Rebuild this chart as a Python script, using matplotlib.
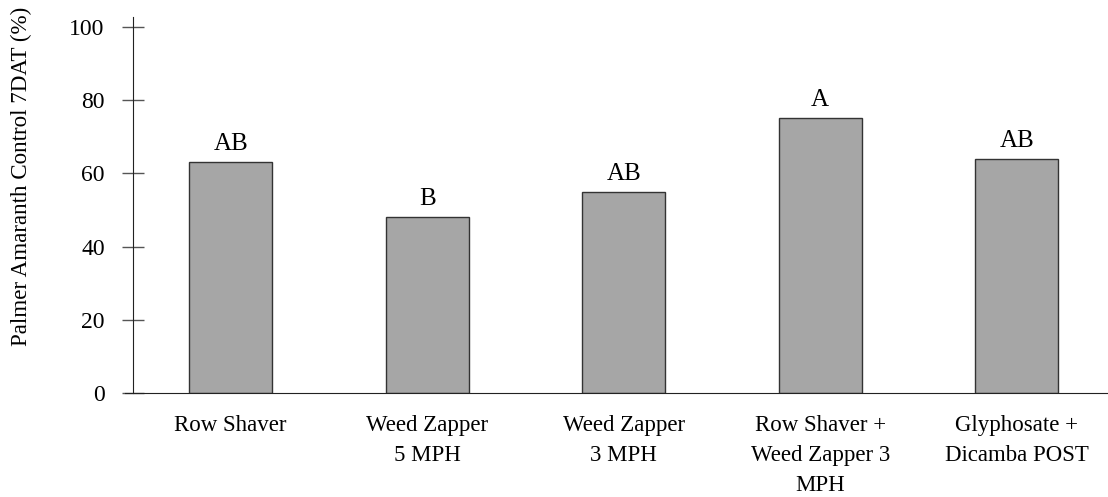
import matplotlib.pyplot as plt

# data
categories = ['Row Shaver', 'Weed Zapper\n5 MPH', 'Weed Zapper\n3 MPH',
              'Row Shaver +\nWeed Zapper 3\nMPH', 'Glyphosate +\nDicamba POST']
control = [63, 48, 55, 75, 64]
letters = ['AB', 'B', 'AB', 'A', 'AB']
yticks = [0, 20, 40, 60, 80, 100]

plt.rcParams['font.family'] = ['Liberation Serif', 'DejaVu Serif']

fig = plt.figure(figsize=(11.08, 4.97), dpi=100)
ax = fig.add_axes([132.5 / 1108, 104 / 497, (1115 - 132.5) / 1108, 376 / 497])

x = list(range(len(categories)))
bars = ax.bar(x, control, width=0.42, color='#a6a6a6', edgecolor='#333333', linewidth=1)

for b, lab in zip(bars, letters):
    ax.annotate(lab, (b.get_x() + b.get_width() / 2, b.get_height()),
                xytext=(0, 5), textcoords='offset points',
                ha='center', va='bottom', fontsize=18)

ax.set_xlim(-0.5, 4.5)
ax.set_ylim(0, 102.7)
ax.set_yticks(yticks)
ax.set_xticks(x)
ax.set_xticklabels(categories, fontsize=16.5, linespacing=1.55)
ax.tick_params(axis='x', length=0, pad=16)
ax.tick_params(axis='y', direction='inout', length=16, width=1, color='#555555',
               labelsize=17, pad=12)
ax.set_ylabel('Palmer Amaranth Control 7DAT (%)', fontsize=16.6)
ax.yaxis.set_label_coords(-0.102, 0.577)

for side in ['top', 'right']:
    ax.spines[side].set_visible(False)
ax.spines['left'].set_color('#222222')
ax.spines['bottom'].set_color('#222222')
ax.spines['bottom'].set_bounds(-0.5 - 8 / 196.5, 4.5)
ax.spines['bottom'].set_clip_on(False)

fig.savefig('out.png', dpi=100)
